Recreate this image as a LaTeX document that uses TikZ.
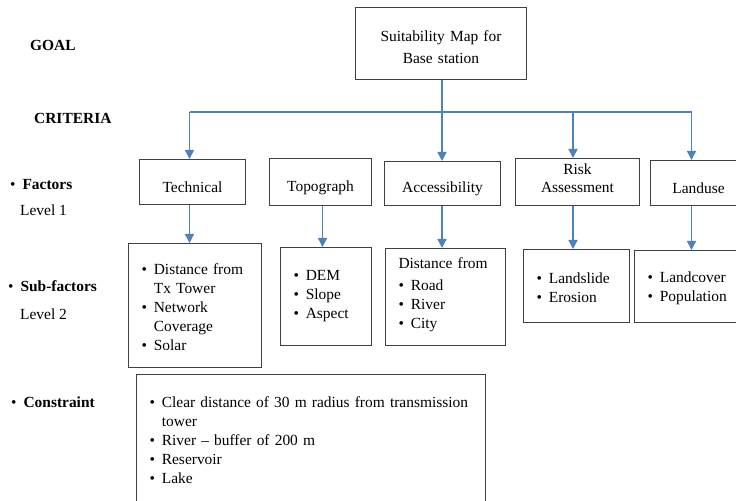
\documentclass[tikz,border=0pt]{standalone}
\usepackage{fontspec}
\setmainfont{Liberation Serif}
\usetikzlibrary{arrows.meta}
\definecolor{linkblue}{RGB}{79,129,189}
\newcommand{\itm}{\makebox[0.8em][l]{\textbullet}}
\newcommand{\cnt}{\hspace*{0.8em}}

\tikzset{
  txt/.style={font=\fontsize{15.5}{19}\selectfont, text=black},
  frame/.style={txt, draw=black!75, line width=1bp, inner sep=0pt, align=center, anchor=north west},
  subframe/.style={frame, align=left, inner xsep=13bp},
  lbl/.style={txt, inner sep=0pt, anchor=base west},
  link/.style={draw=linkblue, line width=1.4bp},
  arr/.style={link, -{Triangle[width=9bp,length=9bp]}}
}

\begin{document}
\begin{tikzpicture}[x=1bp, y=-1bp]
      \useasboundingbox (0,0) rectangle (736,501);
      \clip (0,0) rectangle (736,501);

      % left labels
      \node[lbl] (goallbl) at (30,51) {\textbf{GOAL}};
      \node[lbl] (critlbl) at (34,124) {\textbf{CRITERIA}};
      \node[lbl] (factlbl) at (10,190) {\itm\textbf{Factors}};
      \node[lbl] (lev1) at (20,216) {Level 1};
      \node[lbl] (sublbl) at (8,292) {\itm\textbf{Sub-factors}};
      \node[lbl] (lev2) at (20,319) {Level 2};
      \node[lbl] (conslbl) at (11,407) {\itm\textbf{Constraint}};

      % goal
      \node[frame, text width=171bp, text height=34bp, text depth=38bp,
            font=\fontsize{15.5}{22}\selectfont] (goal) at (355,7) {Suitability Map for\\Base station};

      % factors, level 1
      \node[frame, text width=106bp, text height=33bp, text depth=12bp] (tech) at (139,159) {Technical};
      \node[frame, text width=102bp, text height=33bp, text depth=14bp] (topo) at (269,158) {Topograph};
      \node[frame, text width=116bp, text height=31bp, text depth=13bp] (acc) at (384,161) {Accessibility};
      \node[frame, text width=124bp, text height=16bp, text depth=31bp,
            font=\fontsize{15.5}{18}\selectfont] (risk) at (515,158) {Risk\\Assessment};
      \node[frame, text width=96bp, text height=33bp, text depth=12bp] (land) at (650,160) {Landuse};

      % sub-factors, level 2
      \node[subframe, text width=107bp, text height=31bp, text depth=93bp] (techsub) at (128,243)
        {\itm Distance from\\\cnt Tx Tower\\\itm Network\\\cnt Coverage\\\itm Solar};
      \node[subframe, text width=65bp, text height=33bp, text depth=65bp] (toposub) at (280,247)
        {\itm DEM\\\itm Slope\\\itm Aspect};
      \node[subframe, text width=94bp, text height=20bp, text depth=77bp] (accsub) at (385,248)
        {Distance from\\[3bp]\itm Road\\\itm River\\\itm City};
      \node[subframe, text width=80bp, text height=34bp, text depth=39bp] (risksub) at (523,249)
        {\itm Landslide\\\itm Erosion};
      \node[subframe, text width=86bp, text height=32bp, text depth=40bp] (landsub) at (634,250)
        {\itm Landcover\\\itm Population};

      % constraint
      \node[subframe, text width=323bp, text height=33bp, text depth=113bp] (cons) at (136,374)
        {\itm Clear distance of 30 m radius from transmission\\\cnt tower\\\itm River -- buffer of 200 m\\\itm Reservoir\\\itm Lake};

      % criteria bus
      \coordinate (d1) at (189.5,112);
      \coordinate (d2) at (442,112);
      \coordinate (d3) at (573,112);
      \coordinate (d4) at (691.5,112);

      \draw[link] (goal.south -| d2) -- (d2);
      \draw[link] (d1) -- (d4);
      \draw[arr] (d1) -- (d1 |- tech.north);
      \draw[arr] (d2) -- (d2 |- acc.north);
      \draw[arr] (d3) -- (d3 |- risk.north);
      \draw[arr] (d4) -- (d4 |- land.north);

      \draw[arr] (d1 |- tech.south) -- (d1 |- techsub.north);
      \draw[arr] ([xshift=2bp]topo.south) -- ([xshift=2bp]topo.south |- toposub.north);
      \draw[arr] (d2 |- acc.south) -- (d2 |- accsub.north);
      \draw[arr] (d3 |- risk.south) -- (d3 |- risksub.north);
      \draw[arr] (d4 |- land.south) -- (d4 |- landsub.north);
    \end{tikzpicture}
\end{document}
